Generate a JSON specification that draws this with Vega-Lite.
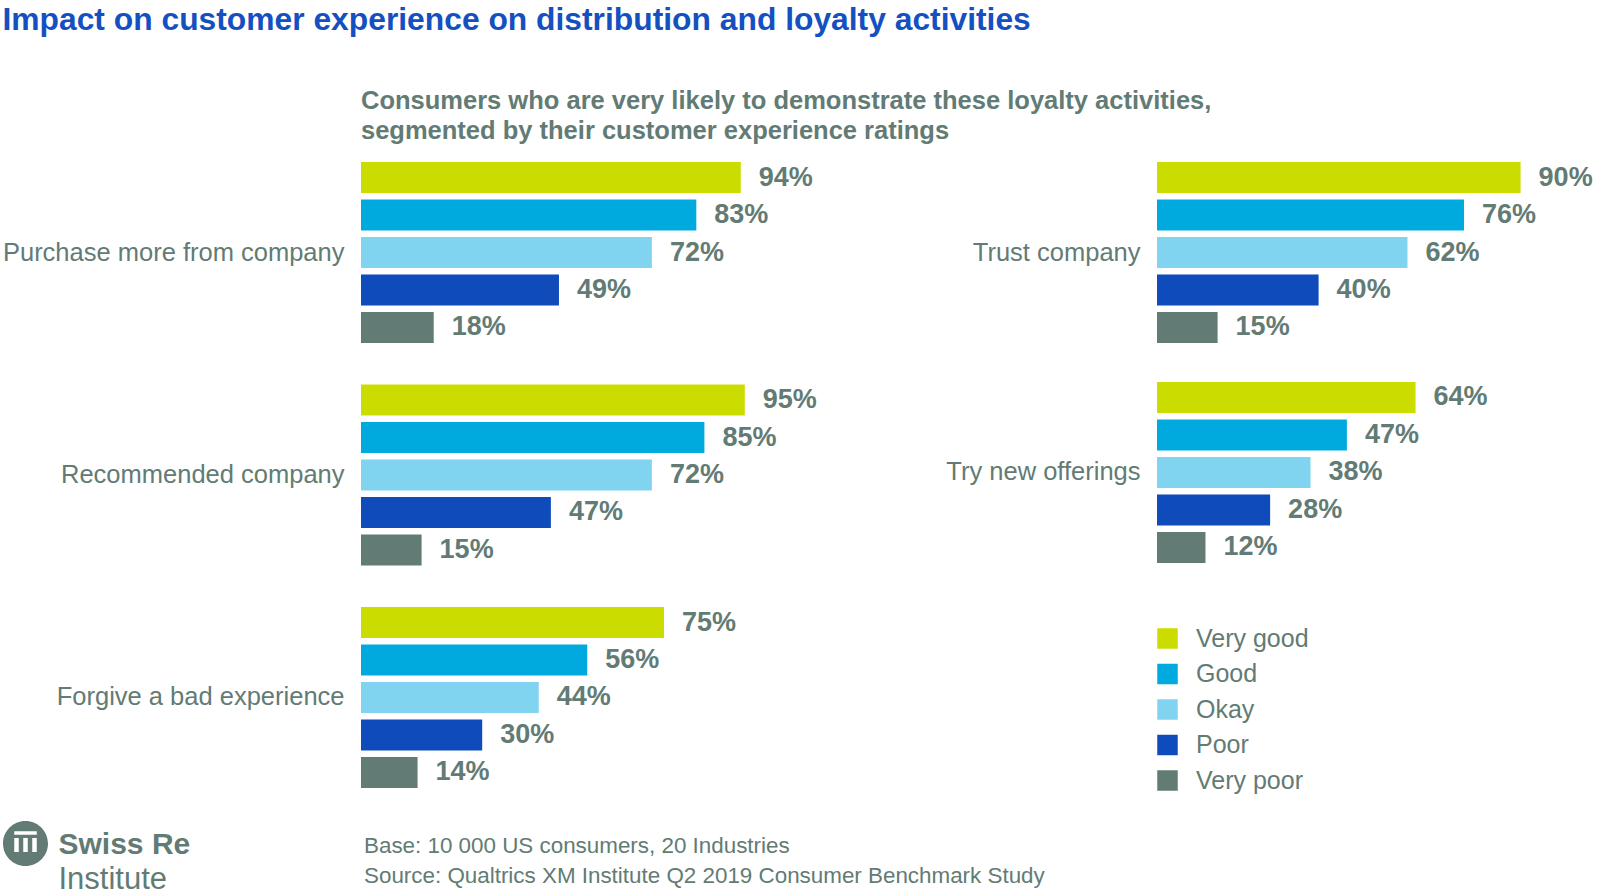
{
  "$schema": "https://vega.github.io/schema/vega-lite/v6.json",
  "background": "white",
  "padding": {"left": 2, "top": 4, "right": 2, "bottom": 2},
  "autosize": {"type": "pad"},
  "config": {
    "font": "Liberation Sans",
    "view": {"stroke": null},
    "axis": {
      "ticks": false,
      "domain": false,
      "grid": false,
      "labelFont": "Liberation Sans",
      "labelFontSize": 25.5,
      "labelColor": "#627b74",
      "labelPadding": 17,
      "labelLimit": 600
    }
  },
  "datasets": {
    "bars": [
      {"panel": "left", "activity": "Purchase more from company", "rating": "Very good", "value": 0.94},
      {"panel": "left", "activity": "Purchase more from company", "rating": "Good", "value": 0.83},
      {"panel": "left", "activity": "Purchase more from company", "rating": "Okay", "value": 0.72},
      {"panel": "left", "activity": "Purchase more from company", "rating": "Poor", "value": 0.49},
      {"panel": "left", "activity": "Purchase more from company", "rating": "Very poor", "value": 0.18},
      {"panel": "left", "activity": "Recommended company", "rating": "Very good", "value": 0.95},
      {"panel": "left", "activity": "Recommended company", "rating": "Good", "value": 0.85},
      {"panel": "left", "activity": "Recommended company", "rating": "Okay", "value": 0.72},
      {"panel": "left", "activity": "Recommended company", "rating": "Poor", "value": 0.47},
      {"panel": "left", "activity": "Recommended company", "rating": "Very poor", "value": 0.15},
      {"panel": "left", "activity": "Forgive a bad experience", "rating": "Very good", "value": 0.75},
      {"panel": "left", "activity": "Forgive a bad experience", "rating": "Good", "value": 0.56},
      {"panel": "left", "activity": "Forgive a bad experience", "rating": "Okay", "value": 0.44},
      {"panel": "left", "activity": "Forgive a bad experience", "rating": "Poor", "value": 0.30},
      {"panel": "left", "activity": "Forgive a bad experience", "rating": "Very poor", "value": 0.14},
      {"panel": "right", "activity": "Trust company", "rating": "Very good", "value": 0.90},
      {"panel": "right", "activity": "Trust company", "rating": "Good", "value": 0.76},
      {"panel": "right", "activity": "Trust company", "rating": "Okay", "value": 0.62},
      {"panel": "right", "activity": "Trust company", "rating": "Poor", "value": 0.40},
      {"panel": "right", "activity": "Trust company", "rating": "Very poor", "value": 0.15},
      {"panel": "right", "activity": "Try new offerings", "rating": "Very good", "value": 0.64},
      {"panel": "right", "activity": "Try new offerings", "rating": "Good", "value": 0.47},
      {"panel": "right", "activity": "Try new offerings", "rating": "Okay", "value": 0.38},
      {"panel": "right", "activity": "Try new offerings", "rating": "Poor", "value": 0.28},
      {"panel": "right", "activity": "Try new offerings", "rating": "Very poor", "value": 0.12}
    ],
    "footer": [
      {"brand": "Swiss Re", "note": "Base: 10 000 US consumers, 20 Industries"},
      {"brand": "Institute", "note": "Source: Qualtrics XM Institute Q2 2019 Consumer Benchmark Study"}
    ]
  },
  "title": {
    "text": "Impact on customer experience on distribution and loyalty activities",
    "anchor": "start",
    "frame": "bounds",
    "fontSize": 31.8,
    "fontWeight": "bold",
    "color": "#1550c1",
    "offset": 52
  },
  "vconcat": [
    {
      "title": {
        "text": [
          "Consumers who are very likely to demonstrate these loyalty activities,",
          "segmented by their customer experience ratings"
        ],
        "anchor": "start",
        "frame": "group",
        "fontSize": 25.5,
        "fontWeight": "bold",
        "color": "#627b74",
        "lineHeight": 30,
        "offset": 18
      },
      "hconcat": [
        {
          "width": 404,
          "height": 626,
          "data": {"name": "bars"},
          "transform": [{"filter": "datum.panel === 'left'"}],
          "encoding": {
            "y": {
              "field": "activity",
              "type": "nominal",
              "sort": ["Purchase more from company", "Recommended company", "Forgive a bad experience"],
              "title": null,
              "scale": {"paddingInner": 0.1865, "paddingOuter": 0}
            },
            "yOffset": {
              "field": "rating",
              "type": "nominal",
              "sort": ["Very good", "Good", "Okay", "Poor", "Very poor"],
              "scale": {"paddingInner": 0.173, "paddingOuter": 0}
            },
            "x": {"field": "value", "type": "quantitative", "scale": {"domain": [0, 1], "nice": false}, "axis": null},
            "color": {
              "field": "rating",
              "type": "nominal",
              "scale": {
                "domain": ["Very good", "Good", "Okay", "Poor", "Very poor"],
                "range": ["#cbdd00", "#00a9de", "#80d4f0", "#0f4bba", "#627b74"]
              },
              "legend": null
            }
          },
          "layer": [
            {"mark": {"type": "bar"}},
            {
              "mark": {"type": "text", "align": "left", "baseline": "middle", "dx": 18, "fontSize": 27, "fontWeight": "bold"},
              "encoding": {
                "text": {"field": "value", "type": "quantitative", "format": ".0%"},
                "color": {"value": "#627b74"}
              }
            }
          ]
        },
        {
          "width": 404,
          "height": 401,
          "data": {"name": "bars"},
          "transform": [{"filter": "datum.panel === 'right'"}],
          "encoding": {
            "y": {
              "field": "activity",
              "type": "nominal",
              "sort": ["Trust company", "Try new offerings"],
              "title": null,
              "scale": {"paddingInner": 0.177, "paddingOuter": 0}
            },
            "yOffset": {
              "field": "rating",
              "type": "nominal",
              "sort": ["Very good", "Good", "Okay", "Poor", "Very poor"],
              "scale": {"paddingInner": 0.173, "paddingOuter": 0}
            },
            "x": {"field": "value", "type": "quantitative", "scale": {"domain": [0, 1], "nice": false}, "axis": null},
            "color": {
              "field": "rating",
              "type": "nominal",
              "scale": {
                "domain": ["Very good", "Good", "Okay", "Poor", "Very poor"],
                "range": ["#cbdd00", "#00a9de", "#80d4f0", "#0f4bba", "#627b74"]
              },
              "legend": {
                "orient": "none",
                "legendX": -2,
                "legendY": 464,
                "direction": "vertical",
                "title": null,
                "symbolType": "square",
                "symbolSize": 420,
                "symbolStrokeWidth": 0,
                "symbolOpacity": 1,
                "labelFont": "Liberation Sans",
                "labelFontSize": 25,
                "labelColor": "#627b74",
                "labelOffset": 16,
                "rowPadding": 9.5
              }
            }
          },
          "layer": [
            {"mark": {"type": "bar"}},
            {
              "mark": {"type": "text", "align": "left", "baseline": "middle", "dx": 18, "fontSize": 27, "fontWeight": "bold"},
              "encoding": {
                "text": {"field": "value", "type": "quantitative", "format": ".0%"},
                "color": {"value": "#627b74"}
              }
            }
          ]
        }
      ],
      "spacing": 128,
      "resolve": {"scale": {"color": "independent"}}
    },
    {
      "width": 6,
      "height": 79,
      "data": {"name": "footer"},
      "encoding": {
        "y": {
          "field": "brand",
          "type": "nominal",
          "sort": ["Swiss Re", "Institute"],
          "title": null,
          "scale": {"type": "point", "padding": 0.734},
          "axis": {
            "orient": "left",
            "labelAlign": "left",
            "labelPadding": 303,
            "labelColor": "#627b74",
            "labelFontSize": {"condition": {"test": "datum.value === 'Swiss Re'", "value": 30}, "value": 31},
            "labelFontWeight": {"condition": {"test": "datum.value === 'Swiss Re'", "value": "bold"}, "value": "normal"},
            "labelOffset": {"condition": {"test": "datum.value === 'Swiss Re'", "value": 0}, "value": 3}
          }
        }
      },
      "layer": [
        {
          "transform": [{"filter": "datum.brand === 'Swiss Re'"}],
          "mark": {"type": "text", "align": "left", "baseline": "middle", "dy": 2, "fontSize": 22.4, "color": "#627b74"},
          "encoding": {"text": {"field": "note", "type": "nominal"}}
        },
        {
          "transform": [{"filter": "datum.brand === 'Institute'"}],
          "mark": {"type": "text", "align": "left", "baseline": "middle", "dy": -1, "fontSize": 22.4, "color": "#627b74"},
          "encoding": {"text": {"field": "note", "type": "nominal"}}
        },
        {
          "mark": {"type": "point", "filled": true, "opacity": 0},
          "encoding": {
            "color": {
              "datum": "Swiss Re Institute",
              "type": "nominal",
              "scale": {"range": ["#627b74"]},
              "legend": {
                "orient": "left",
                "offset": 10,
                "padding": 0,
                "title": null,
                "symbolType": "M-1,0A1,1,0,1,1,1,0A1,1,0,1,1,-1,0ZM-0.5,-0.54L-0.5,-0.39L0.5,-0.39L0.5,-0.54ZM-0.5,-0.25L-0.5,0.38L-0.3,0.38L-0.3,-0.25ZM-0.1,-0.25L-0.1,0.38L0.1,0.38L0.1,-0.25ZM0.3,-0.25L0.3,0.38L0.5,0.38L0.5,-0.25Z",
                "symbolSize": 2025,
                "symbolFillColor": "#627b74",
                "symbolStrokeWidth": 0,
                "symbolOpacity": 1,
                "labelExpr": "''",
                "labelOffset": 0
              }
            }
          }
        }
      ]
    }
  ],
  "spacing": 27,
  "resolve": {"scale": {"color": "independent"}}
}
